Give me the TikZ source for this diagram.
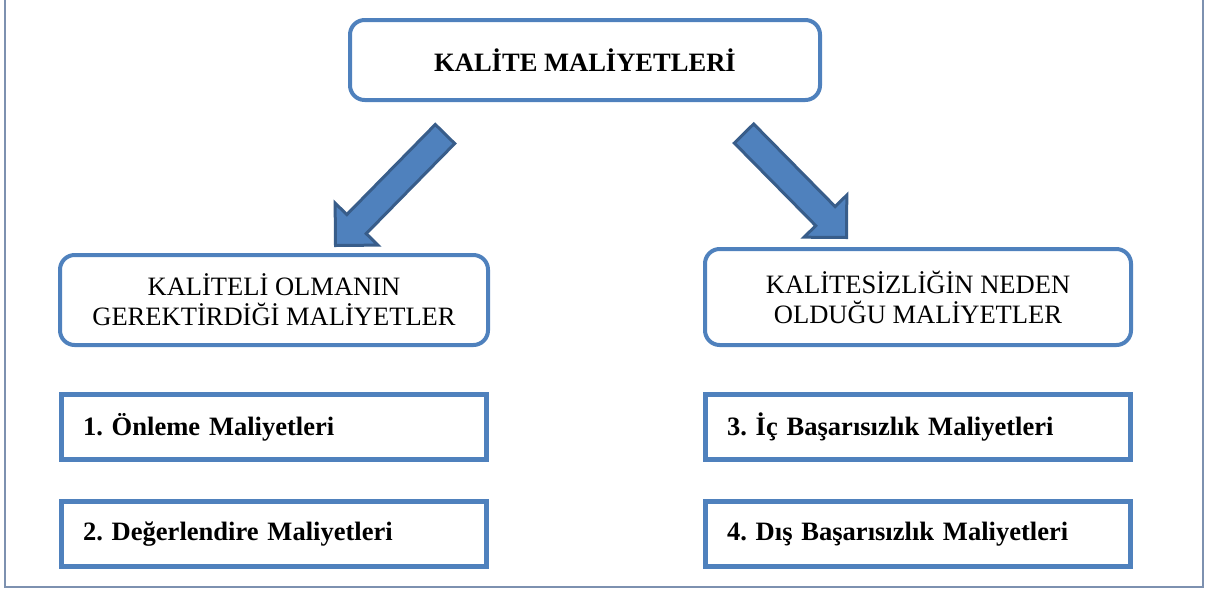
\documentclass[tikz,border=0pt]{standalone}
\usepackage{fontspec}
\setmainfont{Liberation Serif}
\usetikzlibrary{calc}
\frenchspacing
\definecolor{boxblue}{RGB}{79,129,189}
\definecolor{arrowedge}{RGB}{56,93,138}
\definecolor{framegray}{RGB}{125,145,176}
\newcommand\blockarrow[2]{%
  \coordinate (#1-hb) at ($(#2)!22.5pt!(#1)$);
  \draw[barrow] ($(#1)!10.2pt!90:(#2)$) -- ($(#1-hb)!10.2pt!90:(#2)$)
    -- ($(#1-hb)!22.5pt!90:(#2)$) -- (#2) -- ($(#1-hb)!22.5pt!-90:(#2)$)
    -- ($(#1-hb)!10.2pt!-90:(#2)$) -- ($(#1)!10.2pt!-90:(#2)$) -- cycle;
}
\begin{document}
\begin{tikzpicture}[x=0.75pt,y=-0.75pt,
  txt/.style={font=\fontsize{19.9}{22.5}\selectfont},
  rbox/.style={txt, draw=boxblue, line width=3pt, rounded corners=11pt, align=center, inner sep=0pt},
  sbox/.style={draw=boxblue, line width=3.75pt, align=left, font=\fontsize{19.9}{22.5}\selectfont\bfseries,
    inner xsep=16.1pt, inner ysep=0pt, text width=286.5pt, minimum height=48.75pt},
  barrow/.style={fill=boxblue, draw=arrowedge, line width=2.25pt, line join=miter},
  frame/.style={draw=framegray, line width=1.5pt}]
\useasboundingbox (0,0) rectangle (1206,590);
\draw[frame] (5,0) -- (5,587) -- (1203,587) -- (1203,0);

\node[rbox, minimum width=352.5pt, minimum height=60pt, font=\fontsize{19.9}{22.5}\selectfont\bfseries] (top) at (585,60) {KALİTE MALİYETLERİ};
\node[rbox, minimum width=321pt, minimum height=67.5pt] (left) at (274,300) {KALİTELİ OLMANIN\\GEREKTİRDİĞİ MALİYETLER};
\node[rbox, minimum width=319.5pt, minimum height=72pt] (right) at (918,297) {KALİTESİZLİĞİN NEDEN\\OLDUĞU MALİYETLER};

\node[sbox] (c1) at (274,427) {1. Önleme Maliyetleri};
\node[sbox] (c2) at (274,534) {2. Değerlendire Maliyetleri};
\node[sbox] (c3) at (918,427) {3. İç Başarısızlık Maliyetleri};
\node[sbox] (c4) at (918,534) {4. Dış Başarısızlık Maliyetleri};

\coordinate (la) at (445,134);
\coordinate (lt) at (335.5,245.5);
\coordinate (ra) at (744,133.5);
\coordinate (rt) at (846.5,237.5);
\blockarrow{la}{lt}
\blockarrow{ra}{rt}
\end{tikzpicture}
\end{document}
